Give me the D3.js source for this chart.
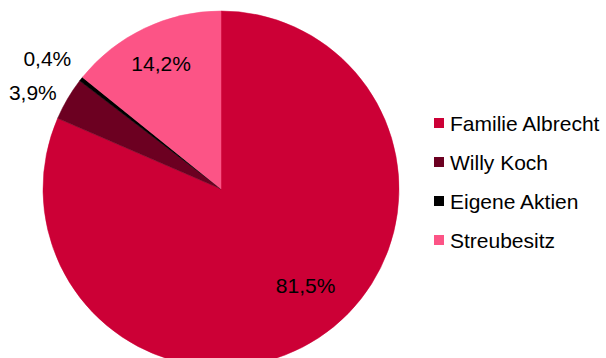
<!DOCTYPE html>
<html>
<head>
<meta charset="utf-8">
<script src="https://cdn.jsdelivr.net/npm/d3@7"></script>
<style>
  html, body { margin: 0; padding: 0; background: #fff; }
  svg { display: block; }
  text { font-family: "Liberation Sans", Arial, Helvetica, sans-serif; fill: #000; }
</style>
</head>
<body>
<svg id="chart" width="606" height="358"></svg>
<script>
// Aktionärsstruktur
const categories = ["Familie Albrecht", "Willy Koch", "Eigene Aktien", "Streubesitz"];
const shares = [81.5, 3.9, 0.4, 14.2];
const sliceColors = ["#cc0036", "#6c0021", "#000000", "#fc5486"];
const valueLabels = ["81,5%", "3,9%", "0,4%", "14,2%"];

const svg = d3.select("#chart");
const cx = 221, cy = 189, R = 178;
const fontSize = 21;

const data = categories.map((c, i) => ({ name: c, value: shares[i], color: sliceColors[i], label: valueLabels[i] }));

const pie = d3.pie().value(d => d.value).sort(null).startAngle(0).endAngle(2 * Math.PI);
const arcs = pie(data);
const arc = d3.arc().innerRadius(0).outerRadius(R);

const g = svg.append("g").attr("transform", `translate(${cx},${cy})`);

g.selectAll("path.slice")
  .data(arcs)
  .join("path")
  .attr("class", "slice")
  .attr("d", arc)
  .attr("fill", d => d.data.color)
  .attr("stroke", d => d.data.color)
  .attr("stroke-width", 0.5);

// Value labels: inside for large slices, outside (right-aligned) for small ones
const labelPos = arcs.map(a => {
  const mid = (a.startAngle + a.endAngle) / 2;
  const inside = a.data.value > 10;
  let rr = inside ? R * 0.78 : R * 1.07;
  let ang = mid;
  // the largest slice's label is pulled up into the visible part of the pie
  if (a.data.value > 50) { rr = R * 0.72; ang = mid - 0.14; }
  return {
    d: a,
    inside,
    x: Math.sin(ang) * rr,
    y: -Math.cos(ang) * rr
  };
});

// spread outside labels so they don't collide
const outside = labelPos.filter(p => !p.inside).sort((a, b) => b.y - a.y);
const minGap = 34;
for (let i = 1; i < outside.length; i++) {
  if (outside[i - 1].y - outside[i].y < minGap) outside[i].y = outside[i - 1].y - minGap;
}

g.selectAll("text.val")
  .data(labelPos)
  .join("text")
  .attr("class", "val")
  .attr("x", p => p.x)
  .attr("y", p => p.y)
  .attr("dy", "0.36em")
  .attr("text-anchor", p => p.inside ? "middle" : "end")
  .attr("font-size", fontSize)
  .text(p => p.d.data.label);

// Legend
const legendY = d3.scalePoint().domain(categories).range([123, 240]);
const legend = svg.append("g");
const rows = legend.selectAll("g")
  .data(data)
  .join("g")
  .attr("transform", d => `translate(434,${legendY(d.name)})`);
rows.append("rect")
  .attr("x", 0).attr("y", -5)
  .attr("width", 10).attr("height", 10)
  .attr("fill", d => d.color);
rows.append("text")
  .attr("x", 16)
  .attr("y", 0)
  .attr("dy", "0.36em")
  .attr("font-size", fontSize)
  .text(d => d.name);
</script>
</body>
</html>
